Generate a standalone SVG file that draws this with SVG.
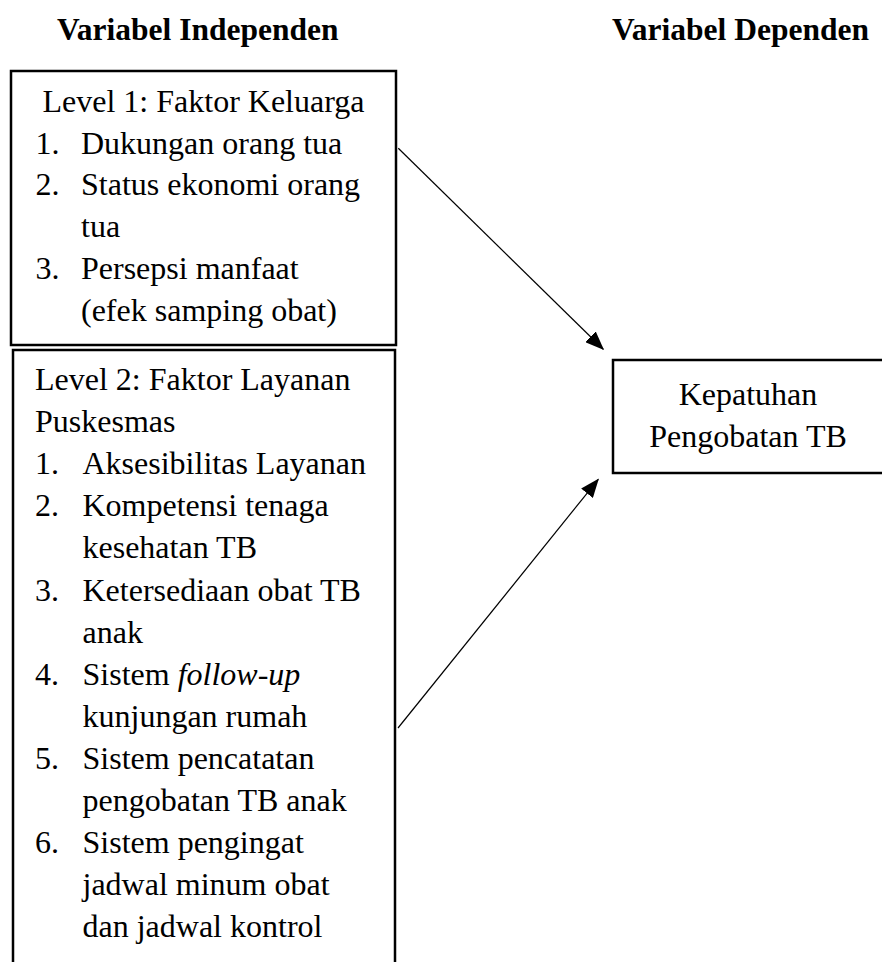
<svg xmlns="http://www.w3.org/2000/svg" width="882" height="962" viewBox="0 0 882 962">
<defs>
<style>
.box{fill:none;stroke:#000;stroke-width:2.5}
.t{font-family:"Liberation Serif","Times New Roman",serif;font-size:32px;fill:#000}
.h{font-family:"Liberation Serif","Times New Roman",serif;font-size:31.5px;font-weight:bold;fill:#000}
.c{text-anchor:middle}
.edge{stroke:#000;stroke-width:1.2;fill:none}
</style>
<marker id="ah" markerWidth="19" markerHeight="15" refX="18" refY="7.5" orient="auto" markerUnits="userSpaceOnUse">
<path d="M0,0 L19,7.5 L0,15 Z" fill="#000"/>
</marker>
</defs>
<rect width="882" height="962" fill="#fff"/>
<g id="headers">
<text class="h" x="57" y="40">Variabel Independen</text>
<text class="h" x="612" y="40">Variabel Dependen</text>
</g>
<g id="level1">
<rect class="box" x="11" y="71" width="385" height="274"/>
<text class="t c" x="203.5" y="112">Level 1: Faktor Keluarga</text>
<text class="t" x="35.5" y="153.7">1.</text><text class="t" x="81" y="153.7">Dukungan orang tua</text>
<text class="t" x="35.5" y="195.4">2.</text><text class="t" x="81" y="195.4">Status ekonomi orang</text>
<text class="t" x="81" y="237.1">tua</text>
<text class="t" x="35.5" y="278.8">3.</text><text class="t" x="81" y="278.8">Persepsi manfaat</text>
<text class="t" x="81" y="320.5">(efek samping obat)</text>
</g>
<g id="level2">
<rect class="box" x="13" y="350" width="382" height="640"/>
<text class="t" x="35" y="390">Level 2: Faktor Layanan</text>
<text class="t" x="35" y="432.1">Puskesmas</text>
<text class="t" x="35" y="474.2">1.</text><text class="t" x="82.5" y="474.2">Aksesibilitas Layanan</text>
<text class="t" x="35" y="516.3">2.</text><text class="t" x="82.5" y="516.3">Kompetensi tenaga</text>
<text class="t" x="82.5" y="558.4">kesehatan TB</text>
<text class="t" x="35" y="600.5">3.</text><text class="t" x="82.5" y="600.5">Ketersediaan obat TB</text>
<text class="t" x="82.5" y="642.6">anak</text>
<text class="t" x="35" y="684.7">4.</text><text class="t" x="82.5" y="684.7">Sistem <tspan font-style="italic">follow-up</tspan></text>
<text class="t" x="82.5" y="726.8">kunjungan rumah</text>
<text class="t" x="35" y="768.9">5.</text><text class="t" x="82.5" y="768.9">Sistem pencatatan</text>
<text class="t" x="82.5" y="811">pengobatan TB anak</text>
<text class="t" x="35" y="853.1">6.</text><text class="t" x="82.5" y="853.1">Sistem pengingat</text>
<text class="t" x="82.5" y="895.2">jadwal minum obat</text>
<text class="t" x="82.5" y="937.3">dan jadwal kontrol</text>
</g>
<g id="kepatuhan">
<rect class="box" x="613" y="360" width="300" height="113"/>
<text class="t c" x="748" y="405">Kepatuhan</text>
<text class="t c" x="748" y="447">Pengobatan TB</text>
</g>
<g id="connectors">
<line class="edge" x1="398.3" y1="148.3" x2="603.3" y2="349.3" marker-end="url(#ah)"/>
<line class="edge" x1="398" y1="728" x2="598.3" y2="479.3" marker-end="url(#ah)"/>
</g>
</svg>
